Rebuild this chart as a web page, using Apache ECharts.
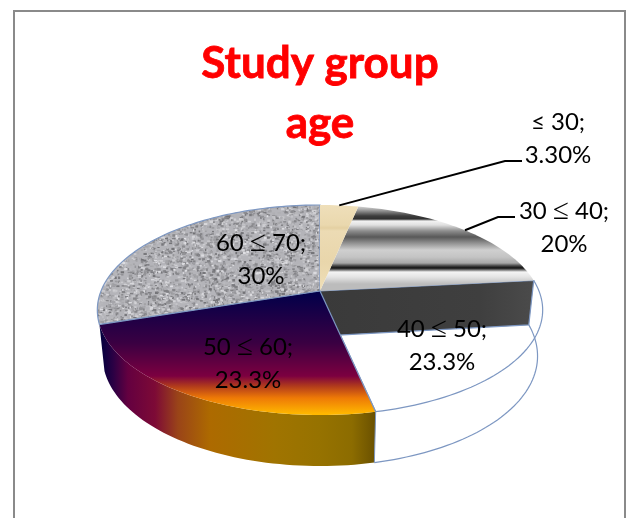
<!DOCTYPE html>
<html>
<head>
<meta charset="utf-8">
<style>html,body{margin:0;padding:0;background:#fff}#chart{width:628px;height:518px}</style>
<script src="https://cdn.jsdelivr.net/npm/echarts@6/dist/echarts.min.js"></script>
</head>
<body>
<div id="chart"></div>
<script>
// Age distribution of the study group, drawn as an extruded pie in perspective.
const categories = ['≤ 30', '30 ≤ 40', '40 ≤ 50', '50 ≤ 60', '60 ≤ 70'];
const percentages = [3.3, 20, 23.3, 23.3, 30];
const percentLabels = ['3.30%', '20%', '23.3%', '23.3%', '30%'];
const titleLines = ['Study group', 'age'];

// Perspective model of the pie disc.
const disc = { cx: 320, apexY: 291, radius: 219, tilt: -0.181, spread: 48.9, depth: 45, depthGrow: 6, shrink: 0.977 };
const EDGE = '#7d97c2';
const FONT = 'Lato, "Open Sans", sans-serif';

function project(frac, onBase) {
  const a = frac * Math.PI * 2, u = Math.sin(a), v = -Math.cos(a);
  const den = 1 + disc.tilt * v;
  let x = disc.cx + disc.radius * u / den;
  let y = (disc.spread * v + disc.apexY) / den;
  if (onBase) {
    x = disc.cx + (x - disc.cx) * disc.shrink;
    y += disc.depth + disc.depthGrow * v;
  }
  return [x, y];
}
function arc(f0, f1, onBase) {
  const pts = [], n = Math.max(4, Math.ceil((f1 - f0) * 240));
  for (let i = 0; i <= n; i++) pts.push(project(f0 + (f1 - f0) * i / n, onBase));
  return pts;
}
function yGrad(y0, y1, stops) {
  return new echarts.graphic.LinearGradient(0, y0, 0, y1, stops.map(s => ({ offset: (s[0] - y0) / (y1 - y0), color: s[1] })), true);
}
function xGrad(x0, x1, stops) {
  return new echarts.graphic.LinearGradient(x0, 0, x1, 0, stops.map(s => ({ offset: (s[0] - x0) / (x1 - x0), color: s[1] })), true);
}

// Speckled stone fill for the largest slice (fixed-seed generator so it draws the same each run).
function stoneTexture() {
  const size = 640, raw = document.createElement('canvas');
  raw.width = raw.height = size;
  const c = raw.getContext('2d');
  let seed = 12345;
  const next = () => (seed = (seed * 1664525 + 1013904223) >>> 0) / 4294967296;
  c.fillStyle = '#b4b4b9';
  c.fillRect(0, 0, size, size);
  for (let i = 0; i < 82000; i++) {
    const g = Math.round(112 + next() * 112), w = 1 + next() * 2.6, h = 1 + next() * 1.6;
    c.fillStyle = 'rgb(' + g + ',' + g + ',' + (g + 4) + ')';
    c.fillRect(next() * size, next() * size, w, h);
  }
  const soft = document.createElement('canvas');
  soft.width = soft.height = size;
  const s = soft.getContext('2d');
  s.fillStyle = '#b4b4b9';
  s.fillRect(0, 0, size, size);
  s.filter = 'blur(0.7px)';
  s.drawImage(raw, 0, 0);
  return soft;
}
const stonePattern = { image: stoneTexture(), repeat: 'repeat' };

// Chrome-like banding across the 30 ≤ 40 slice.
const bandFill = yGrad(204, 284, [
  [204, '#f4f4f4'], [209, '#b0b0b0'], [216, '#3c3c3c'], [219, '#303030'], [221, '#f2f2f2'], [225, '#e0e0e0'],
  [231, '#8c8c8c'], [237, '#585858'], [243, '#909090'], [250, '#cfcfcf'], [257, '#c4c4c4'], [263, '#a8a8a8'],
  [266, '#404040'], [268, '#111111'], [270, '#7a7a7a'], [272, '#f4f4f4'], [277, '#e4e4e4'], [284, '#bcbcbc']
]);
const woodFill = yGrad(204, 291, [
  [204, '#efdfba'], [225, '#ead8ae'], [228, '#e4d0a2'], [231, '#ecdbb4'], [262, '#e9d6ab'], [291, '#efdfb8']
]);
const emberTop = yGrad(291, 414, [
  [291, '#00004a'], [343, '#3a0042'], [376, '#7c0040'], [386, '#b03a1c'], [398, '#ee7a06'], [414, '#ffb800']
]);
const emberSide = xGrad(100, 376, [
  [100, '#00003e'], [113, '#2a0044'], [128, '#640040'], [155, '#7d0a36'], [178, '#9a4418'], [210, '#ad6a00'],
  [275, '#a07400'], [320, '#967200'], [352, '#8c6c00'], [376, '#695000']
]);
const wallFill = xGrad(320, 534, [[320, '#3a3a3a'], [480, '#3f3f3f'], [534, '#4b4b4b']]);

const topFills = [woodFill, bandFill, '#ffffff', emberTop, stonePattern];
const topOrder = [50, 30, 10, 40, 45];
const outlinedTops = [false, false, true, false, true];

// Where each label sits, and the elbow of its leader when it has one.
const labelSpots = [
  { x: 558, y: 122, elbow: [[505, 161], [522, 161]] },
  { x: 564, y: 211, elbow: [[498, 217], [515, 217]] },
  { x: 442, y: 329 },
  { x: 248, y: 347 },
  { x: 261, y: 243 }
];
const LINE_GAP = 33;
const LABEL_FONT = '24px ' + FONT;
const mathSign = { font: '29px "Liberation Serif", serif', fill: '#000', verticalAlign: 'middle' };

// The range labels set their sign in a wider, lighter face.
function rangeText(name) {
  const parts = name.split(' ≤ ');
  return parts.length === 2 ? parts[0] + ' {m|≤} ' + parts[1] + ';' : name + ';';
}

const total = percentages.reduce((a, b) => a + b, 0);
let running = 0;
const sliceRows = percentages.map((p, i) => {
  const row = [running / total, (running + p) / total, i];
  running += p;
  return row;
});

function renderSlice(params, api) {
  const f0 = api.value(0), f1 = api.value(1), i = api.value(2);
  const apex = [disc.cx, disc.apexY];
  const top = arc(f0, f1, false), base = arc(f0, f1, true);
  const kids = [];
  const poly = (points, style, z2) => kids.push({ type: 'polygon', z2, shape: { points }, style });
  const line = (points, stroke, w, z2) => kids.push({ type: 'polyline', z2, shape: { points }, style: { fill: null, stroke, lineWidth: w } });

  poly([apex].concat(top), { fill: topFills[i], stroke: outlinedTops[i] ? EDGE : null, lineWidth: outlinedTops[i] ? 1.2 : 0 }, topOrder[i]);

  if (i === 1) {
    // cut face of this slice stays visible behind the open neighbour
    const end = top[top.length - 1], endBase = base[base.length - 1];
    poly([apex, end, endBase, [disc.cx, disc.apexY + disc.depth]], { fill: wallFill, stroke: EDGE, lineWidth: 1.2 }, 20);
  }
  if (i === 2) {
    line(base, EDGE, 1.2, 12);
  }
  if (i === 3) {
    poly(top.concat(base.slice().reverse()), { fill: emberSide, stroke: null, lineWidth: 0 }, 35);
    line([top[0], base[0]], EDGE, 1, 36);
    line([top[0], apex], EDGE, 1.2, 41);
  }

  const spot = labelSpots[i];
  kids.push({
    type: 'text', z2: 100,
    style: {
      x: spot.x, y: spot.y, text: rangeText(categories[i]), fill: '#000', font: LABEL_FONT,
      align: 'center', verticalAlign: 'middle', rich: { m: mathSign }
    }
  });
  kids.push({
    type: 'text', z2: 100,
    style: { x: spot.x, y: spot.y + LINE_GAP, text: percentLabels[i], fill: '#000', font: LABEL_FONT, align: 'center', verticalAlign: 'middle' }
  });
  if (spot.elbow) {
    line([project((f0 + f1) / 2, false)].concat(spot.elbow), '#000', 2, 90);
  }
  return { type: 'group', children: kids };
}

const chart = echarts.init(document.getElementById('chart'), null, { renderer: 'canvas' });
chart.setOption({
  animation: false,
  backgroundColor: '#ffffff',
  title: {
    text: titleLines.join('\n'),
    left: 315, top: 29, textAlign: 'center',
    textStyle: {
      color: '#ff0000', fontFamily: FONT, fontWeight: 'bold', fontSize: 44, lineHeight: 60,
      textBorderColor: '#ff0000', textBorderWidth: 0.8
    }
  },
  graphic: [{
    type: 'rect', silent: true, z: -1,
    shape: { x: 14, y: 11, width: 611, height: 530 },
    style: { fill: '#fff', stroke: '#8a8a8a', lineWidth: 2 }
  }],
  series: [{
    type: 'custom',
    coordinateSystem: 'none',
    renderItem: renderSlice,
    data: sliceRows,
    silent: true
  }]
});
</script>
</body>
</html>
